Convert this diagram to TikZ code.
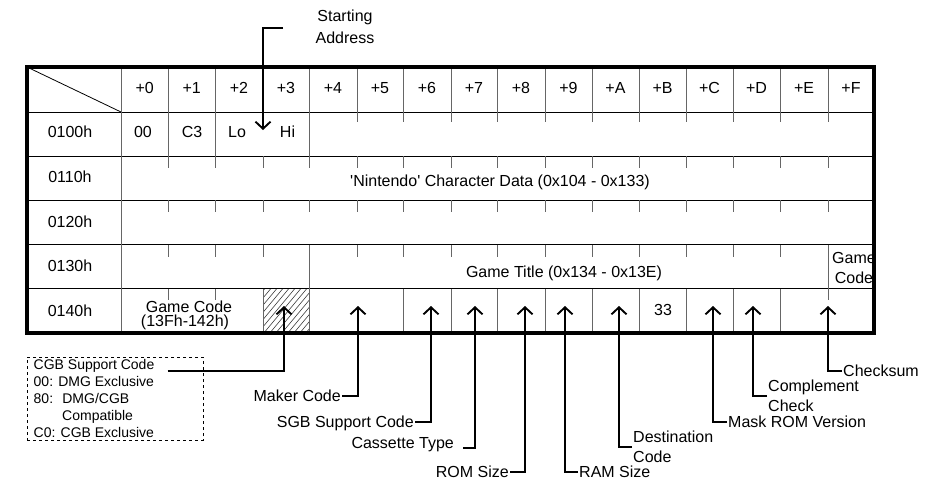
\documentclass[tikz,border=0pt]{standalone}
\usepackage{fontspec}
\setmainfont{Liberation Sans}
\newfontfamily\plainsans{Liberation Sans}
\usetikzlibrary{arrows.meta}
\def\hdrX{{121,168.5,215,263,309,357,403,451,497,545,592,639,686,733,780,828,874}}
\begin{document}
\begin{tikzpicture}[x=1pt,y=-1pt,
  font=\fontsize{16}{20}\selectfont,
  vline/.style={line width=0.8pt, black!60},
  hline/.style={line width=0.9pt, black},
  outerbox/.style={line width=4pt, black},
  hatchline/.style={line width=0.6pt, black!75},
  arr/.style={line width=1.9pt, -{Straight Barb[length=7pt,width=15pt]}},
  cell/.style={inner sep=0pt, text height=11.5pt, text depth=0pt},
  lbl/.style={inner sep=1pt, text height=11.5pt, text depth=0pt},
  lbltwo/.style={inner sep=1pt, align=left, font=\fontsize{16}{20}\selectfont},
  small/.style={inner sep=0pt, anchor=west, text height=10pt, text depth=0pt, font=\fontsize{14}{17}\selectfont},
  cgbbox/.style={draw, dashed, line width=0.8pt, minimum width=176pt, minimum height=83pt, inner sep=0pt}
]
\useasboundingbox (0,0) rectangle (945,501);

% hatched cell
\begin{scope}
  \clip (263,288.5) rectangle (309,333);
  \foreach \k in {-42,-36,...,48} \draw[hatchline] (263+\k,334) -- ++(50,-60);
\end{scope}

% horizontal rules
\foreach \yy in {112,156,200,244.5,288.5} \draw[hline] (27,\yy) -- (874,\yy);
% diagonal
\draw[line width=0.8pt] (27,67) -- (121,112);
% header verticals
\foreach \i in {0,...,15} {\pgfmathsetmacro\xx{\hdrX[\i]}\draw[vline] (\xx,67) -- (\xx,112);}
% label column
\draw[vline] (121,112) -- (121,333);
% row 0100h
\foreach \i in {1,2,4} {\pgfmathsetmacro\xx{\hdrX[\i]}\draw[vline] (\xx,112) -- (\xx,156);}
\foreach \i in {5,...,15} {\pgfmathsetmacro\xx{\hdrX[\i]}\draw[vline] (\xx,112) -- ++(0,10);}
% rows 0110h, 0120h
\foreach \i in {1,...,15} {\pgfmathsetmacro\xx{\hdrX[\i]}
  \draw[vline] (\xx,156) -- ++(0,12);
  \draw[vline] (\xx,200) -- ++(0,12);}
% row 0130h
\foreach \i in {1,2,3,5,6,7,8,9,10,11,12,13,14} {\pgfmathsetmacro\xx{\hdrX[\i]}\draw[vline] (\xx,244.5) -- ++(0,12);}
\foreach \i in {4,15} {\pgfmathsetmacro\xx{\hdrX[\i]}\draw[vline] (\xx,244.5) -- (\xx,288.5);}
% row 0140h
\foreach \i in {1,2,15} {\pgfmathsetmacro\xx{\hdrX[\i]}\draw[vline] (\xx,288.5) -- ++(0,11);}
\foreach \i in {3,4,6,7,8,9,10,11,12,13,14} {\pgfmathsetmacro\xx{\hdrX[\i]}\draw[vline] (\xx,288.5) -- (\xx,333);}

% header texts
\foreach \t [count=\i from 0] in {+0,+1,+2,+3,+4,+5,+6,+7,+8,+9,+A,+B,+C,+D,+E,+F} {
  \pgfmathtruncatemacro\j{\i+1}
  \pgfmathsetmacro\xa{\hdrX[\i]}
  \pgfmathsetmacro\xb{\hdrX[\j]}
  \pgfmathsetmacro\xc{(\xa+\xb)/2}
  \node[cell] (hd\i) at (\xc,87.5) {\t};}
% row labels
\foreach \t/\yy [count=\i] in {0100h/132,0110h/177,0120h/222,0130h/266,0140h/311}
  \node[cell] (rl\i) at (70,\yy) {\t};

% row contents
\node[cell] (b0) at (143,132) {00};
\node[cell] (b1) at (192,132) {C3};
\node[cell] (b2) at (237,132) {Lo};
\node[cell] (b3) at (287.5,132) {Hi};
\node[cell] (logo) at (500,181) {\plainsans 'Nintendo' Character Data (0x104 - 0x133)};
\node[cell] (title) at (564,272) {Game Title (0x134 - 0x13E)};
\begin{scope}
  \clip (828,244.5) rectangle (874,288.5);
  \node[inner sep=0pt, align=center, font=\fontsize{16}{20}\selectfont] (gcf) at (854,268) {Game\\Code};
\end{scope}
\node[inner sep=0pt, align=center, font=\fontsize{16}{13.5}\selectfont] (gcode) at (189,315.5) {Game Code\\\hspace*{-8pt}(13Fh-142h)};
\node[cell] (b4b) at (663,310) {33};

% outer border
\draw[outerbox] (27,67) rectangle (874,333);

% starting address
\node[inner sep=0pt, align=center, font=\fontsize{16}{22}\selectfont] (start) at (345,27) {Starting\\Address};
\coordinate (startL) at (283,28);
\coordinate (tipStart) at (263,130);
\draw[arr] (startL) -| (tipStart);

% arrow tips
\coordinate (tipCGB) at (284,306);
\coordinate (tipMaker) at (358,306);
\coordinate (tipSGB) at (431,306);
\coordinate (tipCass) at (475,306);
\coordinate (tipROM) at (525,306);
\coordinate (tipRAM) at (565,306);
\coordinate (tipDest) at (619,306);
\coordinate (tipMask) at (713,306);
\coordinate (tipComp) at (753,306);
\coordinate (tipSum) at (828,306);

% CGB support box
\node[cgbbox] (cgb) at (115,398.5) {};
\node[small] (cgb1) at (33.5,364) {CGB Support Code};
\node[small] (cgb2) at (33.5,381) {00: DMG Exclusive};
\node[small] (cgb3) at (33.5,398) {80:\hspace{4pt} DMG/CGB};
\node[small] (cgb4) at (62,415) {Compatible};
\node[small] (cgb5) at (33.5,432) {C0: CGB Exclusive};
\draw[arr] ([shift={(13,7)}]cgb1.east) -| (tipCGB);

% bottom labels
\node[lbl, anchor=east] (maker) at (342,396) {Maker Code};
\node[lbl, anchor=east] (sgb) at (415,422) {SGB Support Code};
\node[lbl, anchor=east] (cass) at (455,443) {Cassette Type};
\node[lbl, anchor=east] (rom) at (510,472) {ROM Size};
\node[lbl, anchor=west] (ram) at (578,472) {RAM Size};
\node[lbltwo, anchor=west] (dest) at (632,447) {Destination\\Code};
\node[lbl, anchor=west] (mask) at (727,422) {Mask ROM Version};
\node[lbltwo, anchor=west] (comp) at (767,396) {Complement\\Check};
\node[lbl, anchor=west] (sum) at (842,371) {Checksum};

\draw[arr] (maker.east) -| (tipMaker);
\draw[arr] (sgb.east) -| (tipSGB);
\draw[arr] ([shift={(8,5)}]cass.east) -| (tipCass);
\draw[arr] (rom.east) -| (tipROM);
\draw[arr] (ram.west) -| (tipRAM);
\draw[arr] (dest.west) -| (tipDest);
\draw[arr] (mask.west) -| (tipMask);
\draw[arr] (comp.west) -| (tipComp);
\draw[arr] (sum.west) -| (tipSum);
\end{tikzpicture}
\end{document}
